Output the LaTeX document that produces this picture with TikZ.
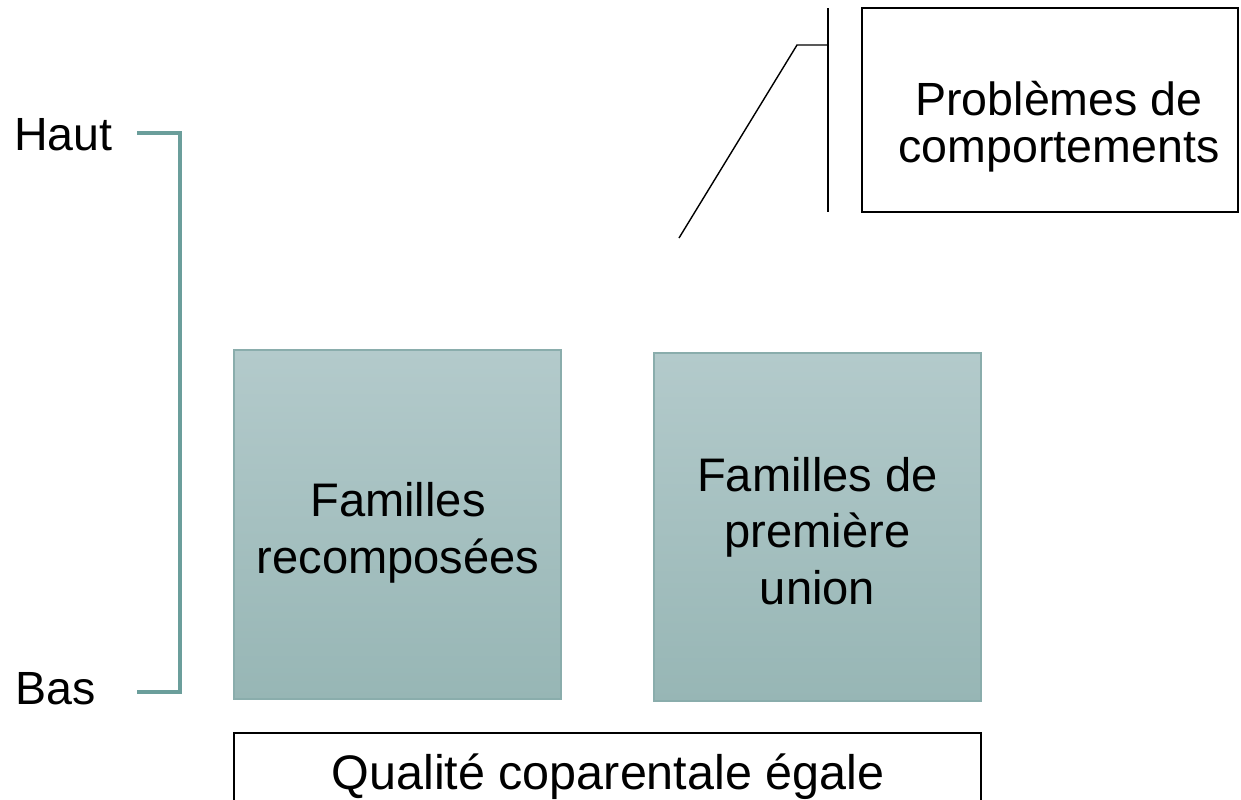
\documentclass[tikz,border=0pt]{standalone}
\usepackage{fontspec}
\setmainfont{Liberation Sans}
\definecolor{famtop}{HTML}{B3CACB}
\definecolor{fambot}{HTML}{97B6B5}
\definecolor{famline}{HTML}{8AADAC}
\definecolor{echellecol}{HTML}{6B9E9B}
\tikzset{
	famille/.style={rectangle, draw=famline, line width=0.8pt, top color=famtop, bottom color=fambot, inner sep=0pt, minimum width=6.54cm},
	cadre/.style={rectangle, draw=black, line width=0.9pt, inner sep=0pt},
	texte/.style={inner sep=0pt, align=center, font=\fontsize{26.5}{26.6}\selectfont},
	textefam/.style={texte, font=\fontsize{26.8}{32.3}\selectfont},
	echelle/.style={draw=echellecol, line width=2pt},
}

\begin{document}
\begin{tikzpicture}[x=0.02cm, y=-0.02cm]
			%%%%% START %%%%%
			\useasboundingbox (0, 0) rectangle (1241, 799);
			
			% echelle Haut / Bas
			\node[texte, anchor=west] (haut) at (14, 135) {Haut};
			\node[texte, anchor=west] (bas) at (15, 689) {Bas};
			\coordinate (hautg) at (137, 133);
			\coordinate (basg) at (137, 692);
			\draw[echelle] (hautg) -- (180, 133) -- (180, 692) -- (basg);
			
			% les deux familles
			\node[famille, minimum height=6.98cm] (recomp) at (397.5, 524.5) {};
			\node[textefam] (recomptxt) at (398, 533) {Familles\\recomposées};
			\node[famille, minimum height=6.96cm] (premiere) at (817.5, 527) {};
			\node[textefam] (premtxt) at (817.5, 531) {Familles de\\première\\union};
			
			% qualite coparentale
			\node[cadre, anchor=north, minimum width=14.94cm, minimum height=1.8cm] (qual) at (607.5, 732) {};
			\node[texte, font=\fontsize{27.6}{30}\selectfont] (qualtxt) at (608, 777) {Qualité coparentale égale};
			
			% bulle problemes
			\node[cadre, minimum width=7.52cm, minimum height=4.08cm] (prob) at (1050, 110) {};
			\node[texte] (probtxt) at (1059, 127) {Problèmes de\\comportements};
			\coordinate (barrehaut) at (828, 8);
			\coordinate (barrebas) at (828, 212);
			\coordinate (coude) at (797, 45);
			\coordinate (pointe) at (679, 238);
			\draw[line width=0.8pt] (barrehaut) -- (barrebas);
			\draw[line width=0.8pt] (828, 45) -- (coude) -- (pointe);
			
			%%%%% END %%%%%
\end{tikzpicture}
\end{document}
